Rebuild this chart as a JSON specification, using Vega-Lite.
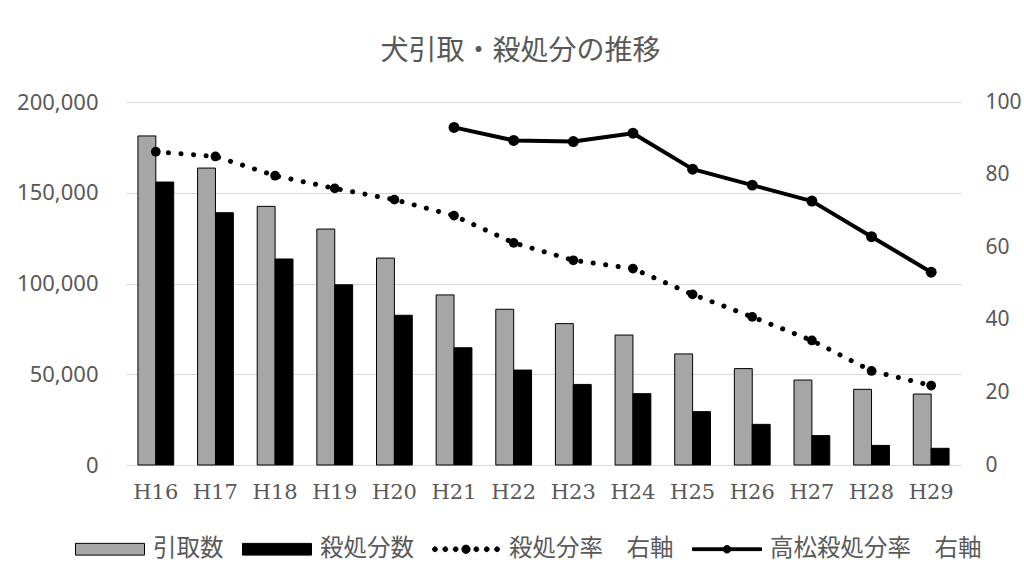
{
  "$schema": "https://vega.github.io/schema/vega-lite/v6.json",
  "width": 835,
  "height": 363,
  "autosize": "none",
  "padding": {"left": 126, "top": 102, "right": 63, "bottom": 118},
  "background": "#ffffff",
  "title": {
    "text": "犬引取・殺処分の推移",
    "font": "Noto Sans CJK JP",
    "fontSize": 28,
    "fontWeight": "normal",
    "color": "#595959",
    "anchor": "middle",
    "dx": -23,
    "baseline": "bottom",
    "offset": -3
  },
  "config": {
    "view": {"stroke": null},
    "axis": {
      "labelColor": "#595959",
      "ticks": false,
      "domain": false,
      "title": null,
      "gridColor": "#d9d9d9",
      "gridWidth": 1
    },
    "legend": {
      "orient": "none",
      "direction": "horizontal",
      "padding": 0,
      "columnPadding": 16,
      "labelOffset": 8,
      "labelFont": "Noto Sans CJK JP",
      "labelFontSize": 23.5,
      "labelColor": "#595959",
      "labelLimit": 400,
      "symbolSize": 4761,
      "symbolStrokeWidth": 1,
      "symbolOpacity": 1
    }
  },
  "datasets": {
    "counts": [
      {"year": "H16", "series": "引取数", "value": 181300},
      {"year": "H17", "series": "引取数", "value": 163600},
      {"year": "H18", "series": "引取数", "value": 142500},
      {"year": "H19", "series": "引取数", "value": 130000},
      {"year": "H20", "series": "引取数", "value": 114000},
      {"year": "H21", "series": "引取数", "value": 93700},
      {"year": "H22", "series": "引取数", "value": 85800},
      {"year": "H23", "series": "引取数", "value": 77900},
      {"year": "H24", "series": "引取数", "value": 71600},
      {"year": "H25", "series": "引取数", "value": 61200},
      {"year": "H26", "series": "引取数", "value": 53100},
      {"year": "H27", "series": "引取数", "value": 46800},
      {"year": "H28", "series": "引取数", "value": 41700},
      {"year": "H29", "series": "引取数", "value": 39100},
      {"year": "H16", "series": "殺処分数", "value": 155900},
      {"year": "H17", "series": "殺処分数", "value": 139000},
      {"year": "H18", "series": "殺処分数", "value": 113500},
      {"year": "H19", "series": "殺処分数", "value": 99300},
      {"year": "H20", "series": "殺処分数", "value": 82500},
      {"year": "H21", "series": "殺処分数", "value": 64600},
      {"year": "H22", "series": "殺処分数", "value": 52300},
      {"year": "H23", "series": "殺処分数", "value": 44400},
      {"year": "H24", "series": "殺処分数", "value": 39300},
      {"year": "H25", "series": "殺処分数", "value": 29400},
      {"year": "H26", "series": "殺処分数", "value": 22400},
      {"year": "H27", "series": "殺処分数", "value": 16200},
      {"year": "H28", "series": "殺処分数", "value": 10800},
      {"year": "H29", "series": "殺処分数", "value": 9200}
    ],
    "rates": [
      {"year": "H16", "series": "殺処分率　右軸", "value": 86.3},
      {"year": "H17", "series": "殺処分率　右軸", "value": 85.0},
      {"year": "H18", "series": "殺処分率　右軸", "value": 79.7},
      {"year": "H19", "series": "殺処分率　右軸", "value": 76.2},
      {"year": "H20", "series": "殺処分率　右軸", "value": 73.1},
      {"year": "H21", "series": "殺処分率　右軸", "value": 68.7},
      {"year": "H22", "series": "殺処分率　右軸", "value": 61.2},
      {"year": "H23", "series": "殺処分率　右軸", "value": 56.4},
      {"year": "H24", "series": "殺処分率　右軸", "value": 54.1},
      {"year": "H25", "series": "殺処分率　右軸", "value": 47.0},
      {"year": "H26", "series": "殺処分率　右軸", "value": 40.8},
      {"year": "H27", "series": "殺処分率　右軸", "value": 34.3},
      {"year": "H28", "series": "殺処分率　右軸", "value": 25.9},
      {"year": "H29", "series": "殺処分率　右軸", "value": 21.9},
      {"year": "H21", "series": "高松殺処分率　右軸", "value": 93.0},
      {"year": "H22", "series": "高松殺処分率　右軸", "value": 89.4},
      {"year": "H23", "series": "高松殺処分率　右軸", "value": 89.1},
      {"year": "H24", "series": "高松殺処分率　右軸", "value": 91.4},
      {"year": "H25", "series": "高松殺処分率　右軸", "value": 81.5},
      {"year": "H26", "series": "高松殺処分率　右軸", "value": 77.1},
      {"year": "H27", "series": "高松殺処分率　右軸", "value": 72.7},
      {"year": "H28", "series": "高松殺処分率　右軸", "value": 62.9},
      {"year": "H29", "series": "高松殺処分率　右軸", "value": 53.1}
    ]
  },
  "encoding": {
    "x": {
      "field": "year",
      "type": "nominal",
      "sort": null,
      "scale": {"paddingInner": 0.4, "paddingOuter": 0.2},
      "axis": {
        "labelAngle": 0,
        "labelFont": "DejaVu Serif",
        "labelFontSize": 21,
        "labelPadding": 16,
        "domain": true,
        "domainColor": "#d9d9d9",
        "domainWidth": 1,
        "grid": false
      }
    }
  },
  "layer": [
    {
      "data": {"name": "counts"},
      "mark": {"type": "bar", "stroke": "#000000", "strokeWidth": 1},
      "encoding": {
        "xOffset": {"field": "series", "type": "nominal", "scale": {"domain": ["引取数", "殺処分数"]}},
        "y": {
          "field": "value",
          "type": "quantitative",
          "scale": {"domain": [0, 200000], "nice": false},
          "axis": {
            "orient": "left",
            "values": [0, 50000, 100000, 150000, 200000],
            "format": ",d",
            "labelFont": "Noto Sans",
            "labelFontSize": 22,
            "labelPadding": 28,
            "grid": true
          }
        },
        "color": {
          "field": "series",
          "type": "nominal",
          "scale": {
            "domain": ["引取数", "殺処分数", "殺処分率　右軸", "高松殺処分率　右軸"],
            "range": ["#a6a6a6", "#000000", "#000000", "#000000"]
          },
          "legend": {"title": null, "legendX": -51, "legendY": 412}
        }
      }
    },
    {
      "data": {"name": "rates"},
      "encoding": {
        "y": {
          "field": "value",
          "type": "quantitative",
          "scale": {"domain": [0, 100], "nice": false},
          "axis": {
            "orient": "right",
            "values": [0, 20, 40, 60, 80, 100],
            "labelFont": "Noto Sans",
            "labelFontSize": 21,
            "labelPadding": 24,
            "grid": false
          }
        }
      },
      "layer": [
        {
          "transform": [{"filter": "datum.series === '殺処分率　右軸'"}],
          "mark": {"type": "line", "color": "#000000", "strokeWidth": 5, "strokeCap": "round", "strokeDash": [0.1, 12.5]}
        },
        {
          "transform": [{"filter": "datum.series === '殺処分率　右軸'"}],
          "mark": {"type": "point", "color": "#000000", "filled": true, "size": 95, "opacity": 1}
        },
        {
          "transform": [{"filter": "datum.series === '高松殺処分率　右軸'"}],
          "mark": {"type": "line", "color": "#000000", "strokeWidth": 4, "strokeJoin": "round"}
        },
        {
          "transform": [{"filter": "datum.series === '高松殺処分率　右軸'"}],
          "mark": {"type": "point", "color": "#000000", "filled": true, "size": 120, "opacity": 1}
        },
        {
          "mark": {"type": "point", "filled": true, "size": 0, "opacity": 0},
          "encoding": {
            "shape": {
              "field": "series",
              "type": "nominal",
              "scale": {
                "domain": ["引取数", "殺処分数", "殺処分率　右軸", "高松殺処分率　右軸"],
                "range": [
                  "M-1,-0.17H1V0.17H-1Z",
                  "M-1,-0.17H1V0.17H-1Z",
                  "M-0.97,0a0.07,0.07 0 1,1 0.14,0a0.07,0.07 0 1,1 -0.14,0Z M-0.67,0a0.07,0.07 0 1,1 0.14,0a0.07,0.07 0 1,1 -0.14,0Z M-0.37,0a0.07,0.07 0 1,1 0.14,0a0.07,0.07 0 1,1 -0.14,0Z M-0.12,0a0.12,0.12 0 1,1 0.24,0a0.12,0.12 0 1,1 -0.24,0Z M0.23,0a0.07,0.07 0 1,1 0.14,0a0.07,0.07 0 1,1 -0.14,0Z M0.53,0a0.07,0.07 0 1,1 0.14,0a0.07,0.07 0 1,1 -0.14,0Z M0.83,0a0.07,0.07 0 1,1 0.14,0a0.07,0.07 0 1,1 -0.14,0Z",
                  "M-1,-0.04H1V0.04H-1Z M-0.11,0a0.11,0.11 0 1,1 0.22,0a0.11,0.11 0 1,1 -0.22,0Z"
                ]
              },
              "legend": {"title": null, "legendX": -51, "legendY": 412}
            }
          }
        }
      ]
    }
  ],
  "resolve": {"scale": {"y": "independent"}}
}
